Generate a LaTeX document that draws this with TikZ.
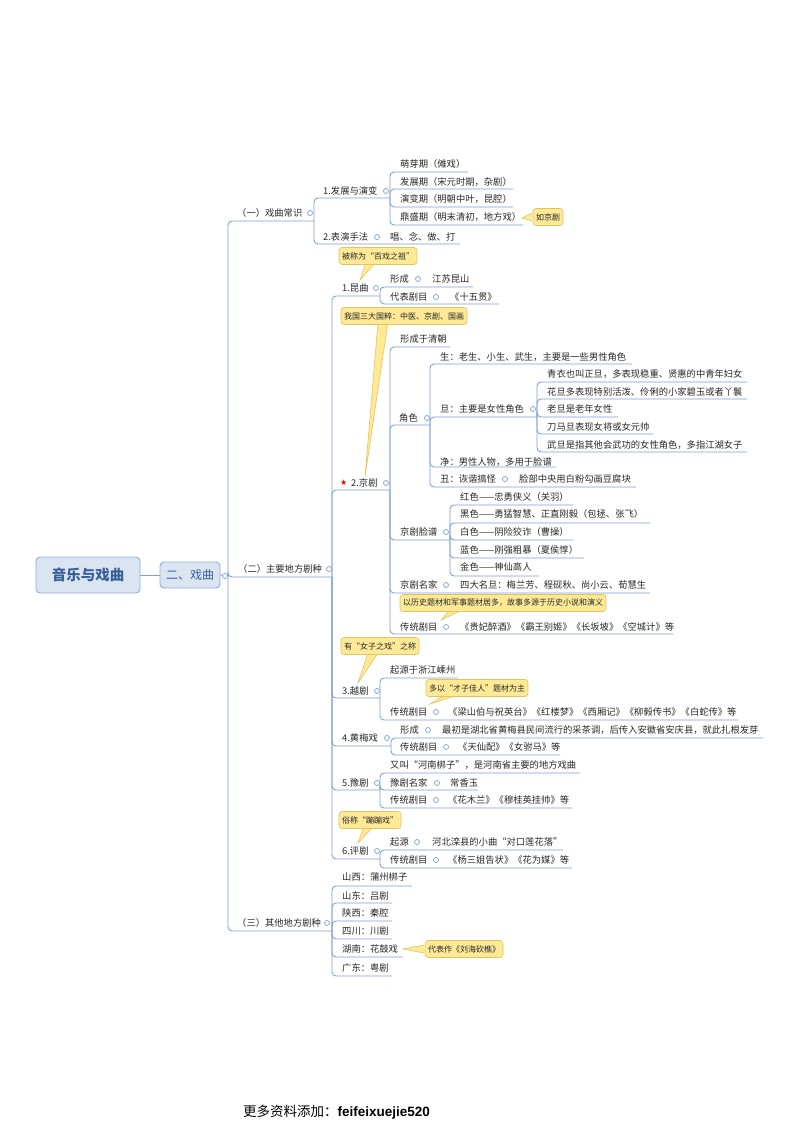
\documentclass[tikz,border=0pt]{standalone}
\usepackage{fontspec}
\setmainfont{Noto Sans CJK SC}
\newfontfamily\symf{DejaVu Sans}
\newfontfamily\latf{Liberation Sans}
\usetikzlibrary{backgrounds}
\definecolor{lc}{RGB}{125,160,210}
\definecolor{tc}{RGB}{40,40,40}
\definecolor{rootfill}{RGB}{219,229,242}
\definecolor{rootline}{RGB}{140,175,220}
\definecolor{roottext}{RGB}{55,95,150}
\definecolor{callfill}{RGB}{253,233,150}
\definecolor{callline}{RGB}{230,195,90}
\tikzset{
  conn/.style={draw=lc,line width=0.9pt,rounded corners=4pt},
  txt/.style={anchor=west,inner sep=0pt,text=tc,font=\fontsize{9.3}{10}\selectfont},
  dotc/.style={circle,draw=lc,fill=white,line width=0.7pt,inner sep=0pt,minimum size=5pt},
  rootbox/.style={draw=rootline,fill=rootfill,rounded corners=4pt,line width=0.9pt,text=roottext,font=\fontsize{14.5}{16}\selectfont\bfseries},
  callbox/.style={draw=callline,fill=callfill,rounded corners=3pt,line width=0.6pt,inner sep=3pt,minimum height=17pt,text=tc,font=\fontsize{8}{9}\selectfont}
}
\newcommand\Tx[4]{\node[txt] (#1) at (#2,#3) {#4};}
\newcommand\Cir[3]{\node[dotc] (#1) at (#2,#3) {};}
\newcommand\Br[3]{\begin{scope}[on background layer]\foreach \u/\e in {#3} {\draw[conn] (#2,#1) |- (\e,\u);}\end{scope}}
\newcommand\Call[6]{%
  \fill[callfill] (#4) -- (#6) -- (#5) -- cycle;
  \draw[callline,line width=0.6pt] (#4) -- (#6) -- (#5);
  \node[callbox] (#1) at (#2) {#3};}
\begin{document}
\begin{tikzpicture}[x=1pt,y=-1pt]
\useasboundingbox (0,0) rectangle (800,1132);
% root
\node[rootbox,minimum width=104pt,minimum height=36pt] (root) at (88,575) {音乐与戏曲};
\node[rootbox,minimum width=60pt,minimum height=26pt,font=\fontsize{12}{14}\selectfont] (xq) at (190,575) {二、戏曲};
\coordinate (j0) at (228,576);
\begin{scope}[on background layer]
\draw[conn] (root.east) -- (xq.west);
\draw[conn] (xq.east) -- (j0);
\end{scope}
\Cir{cxq}{225}{576}
\Br{576}{228}{221/314, 577/332, 931/332}
% (一)
\Tx{a1}{237}{213}{（一）戏曲常识} \Cir{ca1}{310}{213}
\Br{221}{314}{198/390, 244/460}
\Tx{b1}{323}{191}{1.发展与演变} \Cir{cb1}{386}{191}
\Br{198}{390}{172/468, 189/513, 207/513, 225/523}
\Tx{d1}{400}{164}{萌芽期（傩戏）}
\Tx{d2}{400}{182}{发展期（宋元时期，杂剧）}
\Tx{d3}{400}{199}{演变期（明朝中叶，昆腔）}
\Tx{d4}{400}{217}{鼎盛期（明末清初，地方戏）}
\Call{k1}{548,217}{如京剧}{532,213}{532,221}{522,218}
\Tx{b2}{323}{237}{2.表演手法} \Cir{cb2}{377}{237}
\Tx{b2a}{390}{237}{唱、念、做、打}
% (二)
\Tx{a2}{238}{569}{（二）主要地方剧种} \Cir{ca2}{329}{569}
\Br{577}{332}{296/380, 490/390, 698/380, 746/391, 790/380, 859/380}
% 1 昆曲
\Call{k2}{378,256}{被称为“百戏之祖”}{366,262}{376,262}{360,280}
\Tx{q1}{342}{288}{1.昆曲} \Cir{cq1}{376}{288}
\Br{296}{380}{287/473, 304/499}
\Tx{q1a}{390}{279}{形成} \Cir{cq1a}{418}{279} \Tx{q1b}{432}{279}{江苏昆山}
\Tx{q1c}{390}{297}{代表剧目} \Cir{cq1c}{436}{297} \Tx{q1d}{450}{297}{《十五贯》}
% 2 京剧
\node[anchor=west,inner sep=0pt,text=red,font=\symf\fontsize{8}{9}\selectfont] (star) at (340,483) {★};
\Tx{q2}{351}{483}{2.京剧} \Cir{cq2}{386}{483}
\Call{k3}{404,316}{我国三大国粹：中医、京剧、国画}{378,322}{388,322}{365,477}
\Br{490}{390}{347/450, 425/430, 540/450, 593/650, 634/673}
\Tx{j1}{400}{339}{形成于清朝}
\Tx{j2}{399}{418}{角色} \Cir{cj2}{427}{418}
\Br{425}{430}{364/632, 417/537, 467/556, 487/636}
\Tx{r1}{440}{357}{生：老生、小生、武生，主要是一些男性角色}
\Tx{r2}{440}{409}{旦：主要是女性角色} \Cir{cr2}{533}{409}
\Br{417}{537}{382/747, 399/747, 417/618, 434/653, 452/747}
\Tx{s1}{547}{374}{青衣也叫正旦，多表现稳重、贤惠的中青年妇女}
\Tx{s2}{547}{392}{花旦多表现特别活泼、伶俐的小家碧玉或者丫鬟}
\Tx{s3}{547}{409}{老旦是老年女性}
\Tx{s4}{547}{427}{刀马旦表现女将或女元帅}
\Tx{s5}{547}{445}{武旦是指其他会武功的女性角色，多指江湖女子}
\Tx{r3}{440}{462}{净：男性人物，多用于脸谱}
\Tx{r4}{440}{479}{丑：诙谐搞怪} \Cir{cr4}{505}{479} \Tx{r4a}{519}{479}{脸部中央用白粉勾画豆腐块}
\Tx{j3}{400}{532}{京剧脸谱} \Cir{cj3}{446}{532}
\Br{540}{450}{505/573, 523/650, 540/573, 558/584, 576/539}
\Tx{f1}{460}{497}{红色——忠勇侠义（关羽）}
\Tx{f2}{460}{514}{黑色——勇猛智慧、正直刚毅（包拯、张飞）}
\Tx{f3}{460}{532}{白色——阴险狡诈（曹操）}
\Tx{f4}{460}{550}{蓝色——刚强粗暴（夏侯惇）}
\Tx{f5}{460}{567}{金色——神仙高人}
\Tx{j4}{400}{585}{京剧名家} \Cir{cj4}{446}{585} \Tx{j4a}{460}{585}{四大名旦：梅兰芳、程砚秋、尚小云、荀慧生}
\Call{k4}{503,603}{以历史题材和军事题材居多，故事多源于历史小说和演义}{450,610}{462,610}{441,620}
\Tx{j5}{400}{627}{传统剧目} \Cir{cj5}{446}{627} \Tx{j5a}{460}{627}{《贵妃醉酒》《霸王别姬》《长坂坡》《空城计》等}
% 3 越剧
\Call{k5}{380,646}{有“女子之戏”之称}{368,653}{378,653}{358,683}
\Tx{q3}{342}{691}{3.越剧} \Cir{cq3}{377}{691}
\Br{698}{380}{678/458, 720/738}
\Tx{y1}{390}{670}{起源于浙江嵊州}
\Call{k6}{477,688}{多以“才子佳人”题材为主}{445,695}{458,695}{430,704}
\Tx{y2}{390}{712}{传统剧目} \Cir{cy2}{436}{712} \Tx{y2a}{448}{712}{《梁山伯与祝英台》《红楼梦》《西厢记》《柳毅传书》《白蛇传》等}
% 4 黄梅戏
\Tx{q4}{342}{738}{4.黄梅戏} \Cir{cq4}{387}{738}
\Br{746}{391}{738/763, 755/560}
\Tx{h1}{400}{730}{形成} \Cir{ch1}{428}{730} \Tx{h1a}{442}{730}{最初是湖北省黄梅县民间流行的采茶调，后传入安徽省安庆县，就此扎根发芽}
\Tx{h2}{400}{747}{传统剧目} \Cir{ch2}{446}{747} \Tx{h2a}{458}{747}{《天仙配》《女驸马》等}
% 5 豫剧
\Tx{q5}{342}{783}{5.豫剧} \Cir{cq5}{377}{783}
\Br{790}{380}{773/580, 790/478, 808/572}
\Tx{u1}{390}{765}{又叫“河南梆子”，是河南省主要的地方戏曲}
\Tx{u2}{390}{783}{豫剧名家} \Cir{cu2}{437}{783} \Tx{u2a}{450}{783}{常香玉}
\Tx{u3}{390}{800}{传统剧目} \Cir{cu3}{436}{800} \Tx{u3a}{448}{800}{《花木兰》《穆桂英挂帅》等}
% 6 评剧
\Call{k7}{370,820}{俗称“蹦蹦戏”}{364,826}{374,826}{358,843}
\Tx{q6}{342}{851}{6.评剧} \Cir{cq6}{377}{851}
\Br{859}{380}{850/563, 868/572}
\Tx{p1}{390}{842}{起源} \Cir{cp1}{417}{842} \Tx{p1a}{432}{842}{河北滦县的小曲“对口莲花落”}
\Tx{p2}{390}{860}{传统剧目} \Cir{cp2}{436}{860} \Tx{p2a}{448}{860}{《杨三姐告状》《花为媒》等}
% (三)
\Tx{a3}{237}{923}{（三）其他地方剧种} \Cir{ca3}{327}{923}
\Br{931}{332}{886/412, 903/392, 921/392, 939/392, 957/403, 976/392}
\Tx{o1}{342}{877}{山西：蒲州梆子}
\Tx{o2}{342}{896}{山东：吕剧}
\Tx{o3}{342}{913}{陕西：秦腔}
\Tx{o4}{342}{931}{四川：川剧}
\Tx{o5}{342}{949}{湖南：花鼓戏}
\Tx{o6}{342}{968}{广东：粤剧}
\Call{k8}{464,949}{代表作《刘海砍樵》}{424,945}{424,953}{403,949}
% footer
\node[anchor=west,inner sep=0pt,text=black,font=\fontsize{13.5}{15}\selectfont] (ft) at (243,1112) {更多资料添加：{\latf\bfseries feifeixuejie520}};
\end{tikzpicture}
\end{document}
